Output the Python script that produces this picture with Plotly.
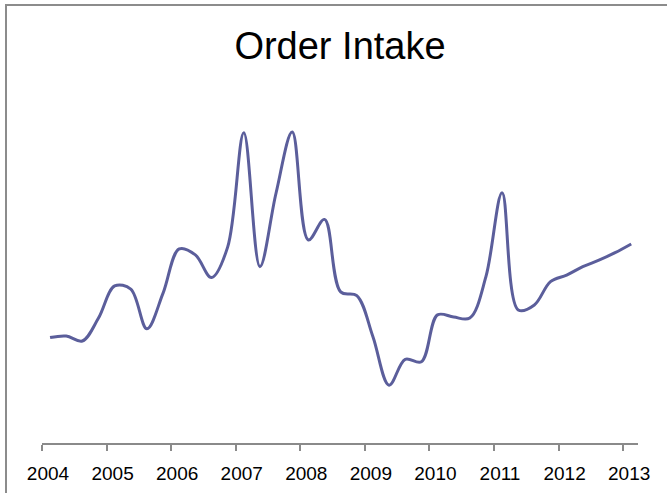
import plotly.graph_objects as go

# Quarterly order intake (arbitrary units), Q1 2004 .. Q1 2013
years = [2004, 2005, 2006, 2007, 2008, 2009, 2010, 2011, 2012, 2013]
tick_labels = [str(y) for y in years]
quarter_pos = [2004.125 + 0.25 * i for i in range(37)]
order_intake = [
    33.9, 34.4, 32.8, 40.2, 50.5, 49.5, 36.7, 48.2, 62.4,
    60.5, 53.2, 63.0, 99.8, 56.7, 80.4, 100.0, 65.3, 71.9,
    48.6, 47.4, 34.2, 18.6, 26.9, 26.1, 41.2, 40.5, 40.2,
    53.5, 80.5, 42.8, 44.4, 51.9, 54.0, 56.7, 58.8, 61.2, 64.0,
]

fig = go.Figure()
fig.add_trace(go.Scatter(
    x=quarter_pos, y=order_intake, mode="lines",
    line=dict(color="#5b5e9b", width=3, shape="spline", smoothing=1.0),
    hoverinfo="skip", showlegend=False,
))

W, H = 667, 493
L, R, T, B = 42, 29, 100, 50
pw, ph = W - L - R, H - T - B

def px_to_paper_x(px):
    return (px - L) / pw

def px_to_paper_y(py):
    return (H - B - py) / ph

fig.update_layout(
    width=W, height=H,
    margin=dict(l=L, r=R, t=T, b=B, pad=0, autoexpand=False),
    paper_bgcolor="white", plot_bgcolor="white",
    title=dict(text="Order Intake", x=0.5, xref="paper", xanchor="center",
               y=1 - 46 / H, yref="container", yanchor="middle",
               font=dict(family="Liberation Sans, Arial, sans-serif", size=38, color="black")),
    xaxis=dict(range=[2004.0, 2013.23], tickvals=years, ticktext=tick_labels,
               automargin=False,
               showgrid=False, zeroline=False, showline=True,
               linecolor="#8a8a8a", linewidth=1.5,
               ticks="outside", ticklen=6, tickcolor="#8a8a8a", tickwidth=1.5,
               ticklabelshift=6, ticklabelstandoff=6,
               tickfont=dict(family="Liberation Sans, Arial, sans-serif", size=19, color="black")),
    yaxis=dict(range=[0, 110.3], visible=False, showgrid=False, zeroline=False,
               automargin=False),
    shapes=[dict(type="rect", xref="paper", yref="paper",
                 x0=px_to_paper_x(6), x1=px_to_paper_x(W + 20),
                 y0=px_to_paper_y(H + 20), y1=px_to_paper_y(5),
                 line=dict(color="#8c8c8c", width=2), fillcolor="rgba(0,0,0,0)",
                 layer="below")],
)

fig.write_html("out.html", config={"displayModeBar": False},
               post_script="document.body.style.margin='0';")
